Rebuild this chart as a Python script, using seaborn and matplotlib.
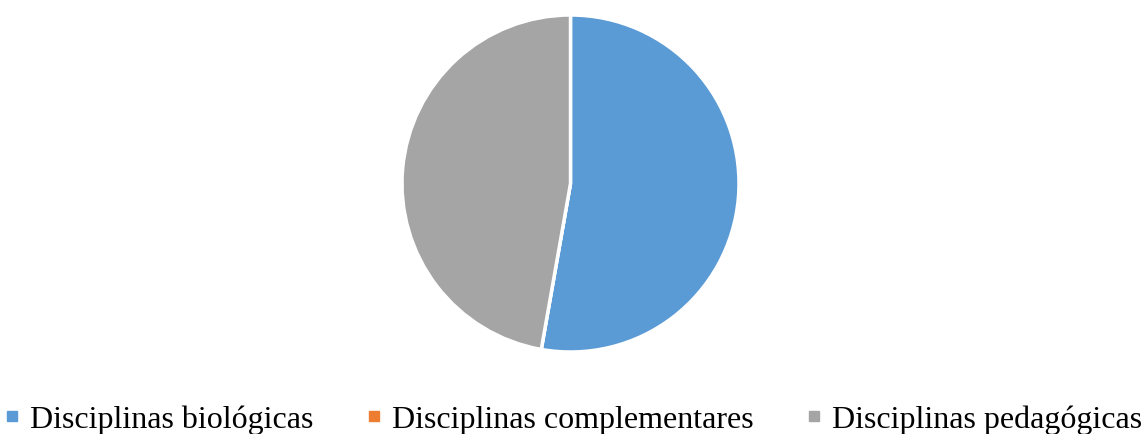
import matplotlib
matplotlib.use("Agg")
import matplotlib.pyplot as plt
import seaborn as sns
from matplotlib.lines import Line2D

categories = ["Disciplinas biológicas", "Disciplinas complementares", "Disciplinas pedagógicas"]
values = [19, 0, 17]
colors = ["#5B9BD5", "#ED7D31", "#A5A5A5"]

sns.set_theme(style="white")
plt.rcParams['font.family'] = ['Liberation Serif', 'DejaVu Serif']

W, H = 1144, 435
fig = plt.figure(figsize=(W / 100, H / 100), dpi=100)
cx, cy, r = 570.5, 184.5, 168.5
ax = fig.add_axes([(cx - r) / W, (H - cy - r) / H, 2 * r / W, 2 * r / H])
ax.pie(values, colors=colors, startangle=90, counterclock=False, radius=1,
       wedgeprops=dict(edgecolor="white", linewidth=2.5))
ax.set_xlim(-1.0, 1.0)
ax.set_ylim(-1.0, 1.0)
ax.set_aspect("equal")
ax.axis("off")

handles = [Line2D([0], [0], marker="s", linestyle="none", markersize=7.5,
                  markerfacecolor=c, markeredgecolor=c) for c in colors]
leg = fig.legend(handles, categories, loc="lower center", ncol=3, frameon=False,
                 bbox_to_anchor=(0.5, 0.0), fontsize=23, handlelength=0.6,
                 handletextpad=0.26, columnspacing=1.6, borderaxespad=0.0,
                 borderpad=0.0)
for t in leg.get_texts():
    t.set_color("black")

fig.savefig("out.png", dpi=100, facecolor="white")
